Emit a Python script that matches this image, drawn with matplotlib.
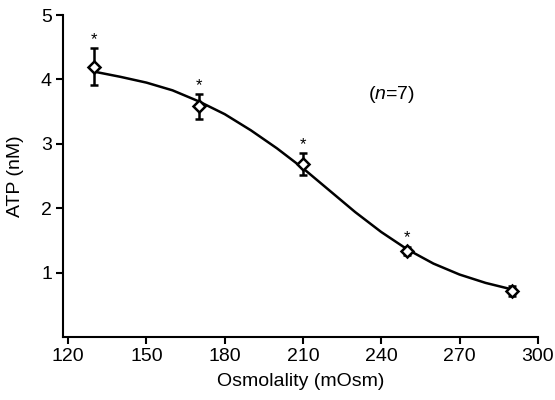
import numpy as np
import matplotlib
matplotlib.use('Agg')
import matplotlib.pyplot as plt

plt.rcParams['font.family'] = ['Liberation Sans', 'DejaVu Sans']
plt.rcParams['mathtext.fontset'] = 'custom'
plt.rcParams['mathtext.rm'] = 'Liberation Sans'
plt.rcParams['mathtext.it'] = 'Liberation Sans:italic'

# measured points (mean +/- error)
osm = [130, 170, 210, 250, 290]
atp = [4.20, 3.58, 2.68, 1.34, 0.71]
err = [0.28, 0.19, 0.17, 0.06, 0.08]
signif = [True, True, True, True, False]

# fitted curve
curve_x = [130, 140, 150, 160, 170, 180, 190, 200, 210, 220, 230, 240, 250, 260, 270, 280, 290]
curve_y = [4.12, 4.04, 3.95, 3.83, 3.66, 3.46, 3.21, 2.93, 2.62, 2.28, 1.94, 1.63, 1.36, 1.14, 0.97, 0.84, 0.74]

xticks = [120, 150, 180, 210, 240, 270, 300]
yticks = [1, 2, 3, 4, 5]

fig = plt.figure(figsize=(5.55, 4.0), dpi=100)
ax = fig.add_axes([0.1135, 0.1575, 0.8555, 0.805])

ax.plot(curve_x, curve_y, color='black', lw=1.8, zorder=2, solid_joinstyle='round')
ax.errorbar(osm, atp, yerr=err, fmt='D', ms=6.5, mfc='white', mec='black', mew=1.8,
            ecolor='black', elinewidth=1.8, capsize=3, capthick=1.8, zorder=3)

for x, y, e, s in zip(osm, atp, err, signif):
    if s:
        ax.annotate('*', (x, y + e), xytext=(0, 1), textcoords='offset points',
                    ha='center', va='bottom', fontsize=12)

ax.text(244, 3.76, '($n$=7)', ha='center', va='center', fontsize=14)

ax.set_xlim(118, 300)
ax.set_ylim(0, 5)
ax.set_xticks(xticks)
ax.set_yticks(yticks)
ax.spines['top'].set_visible(False)
ax.spines['right'].set_visible(False)
ax.spines['left'].set_linewidth(1.5)
ax.spines['bottom'].set_linewidth(1.5)
ax.tick_params(width=1.5, length=5, labelsize=14, direction='out', pad=3)
ax.set_xlabel('Osmolality (mOsm)', fontsize=14, labelpad=6)
ax.set_ylabel('ATP (nM)', fontsize=14, labelpad=12)

fig.savefig('out.png', dpi=100)
